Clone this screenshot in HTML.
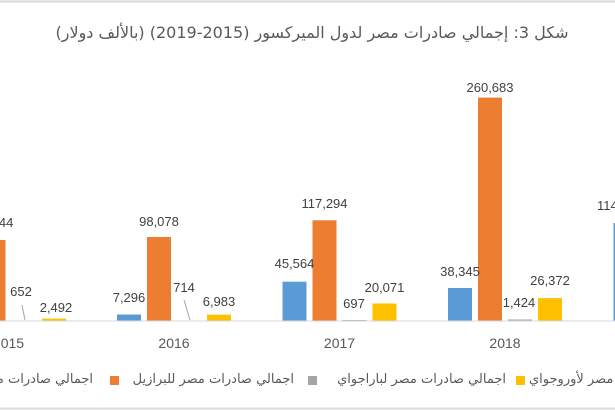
<!DOCTYPE html>
<html><head><meta charset="utf-8"><style>
html,body{margin:0;padding:0;background:#fff;}
body{width:615px;height:410px;overflow:hidden;position:relative;font-family:"Liberation Sans","DejaVu Sans",sans-serif;}
svg{position:absolute;left:0;top:0;}
.lg{position:absolute;top:372px;font-size:13px;color:#595959;white-space:nowrap;direction:rtl;font-family:"DejaVu Sans","Liberation Sans",sans-serif;}
</style></head><body>
<svg width="615" height="410" viewBox="0 0 615 410" font-family="Liberation Sans, DejaVu Sans, sans-serif">
<line x1="0" y1="1.5" x2="615" y2="1.5" stroke="#d9d9d9" stroke-width="2"/>
<line x1="0" y1="408.5" x2="615" y2="408.5" stroke="#d9d9d9" stroke-width="2"/>
<text x="312" y="38" text-anchor="middle" font-size="16" fill="#595959" font-family="DejaVu Sans, Liberation Sans, sans-serif" direction="rtl">شكل 3: إجمالي صادرات مصر لدول الميركسور (2015-2019) (بالألف دولار)</text>
<!-- bars -->
<g>
<rect x="-18.5" y="240" width="24" height="80.7" fill="#ed7d31"/>
<rect x="42" y="318.6" width="24" height="2.1" fill="#ffc000"/>
<rect x="117" y="314.5" width="24" height="6.2" fill="#5b9bd5"/>
<rect x="147" y="237" width="24" height="83.7" fill="#ed7d31"/>
<rect x="207" y="314.7" width="24" height="6" fill="#ffc000"/>
<rect x="282.5" y="281.7" width="24" height="39" fill="#5b9bd5"/>
<rect x="312.5" y="220.3" width="24" height="100.4" fill="#ed7d31"/>
<rect x="342.5" y="320" width="24" height="0.7" fill="#a5a5a5"/>
<rect x="372.5" y="303.5" width="24" height="17.2" fill="#ffc000"/>
<rect x="448" y="288" width="24" height="32.7" fill="#5b9bd5"/>
<rect x="478" y="97.6" width="24" height="223.1" fill="#ed7d31"/>
<rect x="508" y="319.5" width="24" height="1.2" fill="#a5a5a5"/>
<rect x="538" y="298.1" width="24" height="22.6" fill="#ffc000"/>
<rect x="613.5" y="223" width="24" height="97.7" fill="#5b9bd5"/>
</g>
<line x1="0" y1="321" x2="615" y2="321" stroke="#d9d9d9" stroke-width="1"/>
<g stroke="#a5a5a5" stroke-width="1">
<line x1="22" y1="305" x2="25" y2="320"/>
<line x1="184" y1="300" x2="190" y2="320"/>
</g>
<g font-size="13" fill="#404040" text-anchor="middle">
<text x="-6.5" y="227">94,244</text>
<text x="21" y="296">652</text>
<text x="56" y="312">2,492</text>
<text x="129" y="302">7,296</text>
<text x="159" y="226">98,078</text>
<text x="184" y="292">714</text>
<text x="219" y="306">6,983</text>
<text x="294.5" y="268">45,564</text>
<text x="324.5" y="208">117,294</text>
<text x="354" y="308">697</text>
<text x="384.5" y="292">20,071</text>
<text x="460" y="276">38,345</text>
<text x="490" y="92">260,683</text>
<text x="519" y="307">1,424</text>
<text x="550" y="285">26,372</text>
<text x="620" y="210">114,000</text>
</g>
<g font-size="14" fill="#595959" text-anchor="middle">
<text x="8.5" y="348">2015</text>
<text x="174" y="348">2016</text>
<text x="339.5" y="348">2017</text>
<text x="505" y="348">2018</text>
</g>
<rect x="110" y="376" width="9" height="9" fill="#ed7d31"/>
<rect x="308" y="376" width="9" height="9" fill="#a5a5a5"/>
<rect x="516" y="376" width="9" height="9" fill="#ffc000"/>
</svg>
<div class="lg" style="right:522px;">اجمالي صادرات مصر للأرجنتين</div>
<div class="lg" style="left:123px;width:171px;text-align:right;">اجمالي صادرات مصر للبرازيل</div>
<div class="lg" style="left:322px;width:184px;text-align:right;">اجمالي صادرات مصر لباراجواي</div>
<div class="lg" style="left:529px;">اجمالي صادرات مصر لأوروجواي</div>
</body></html>
